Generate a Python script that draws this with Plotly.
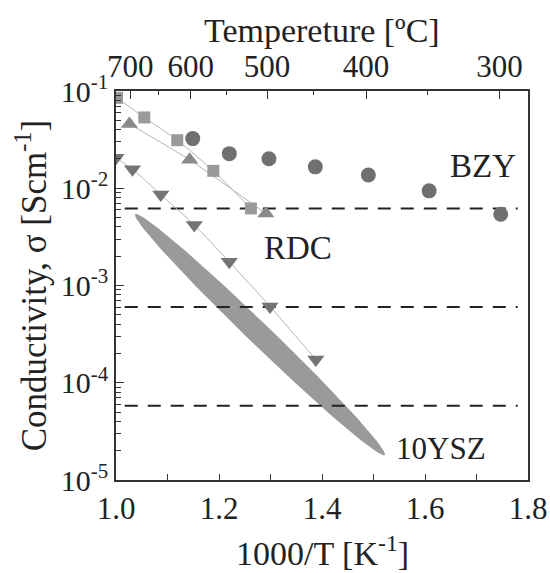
import numpy as np
import plotly.graph_objects as go

# ---- data ----
bzy_x = [1.149, 1.220, 1.297, 1.387, 1.490, 1.608, 1.747]
bzy_y = [0.0324, 0.0227, 0.0201, 0.0166, 0.0137, 0.0094, 0.0054]

sq_x = [1.002, 1.055, 1.119, 1.189, 1.262]
sq_y = [0.085, 0.0535, 0.0312, 0.0151, 0.0062]

tu_x = [1.026, 1.143, 1.291]
tu_y = [0.0459, 0.0196, 0.0055]

td_x = [1.000, 1.032, 1.087, 1.152, 1.220, 1.299, 1.388]
td_y = [0.0206, 0.0157, 0.0086, 0.0042, 0.00175, 0.00061, 0.000173]

ref_levels = [6.2e-3, 6.0e-4, 5.8e-5]
ref_x = [1.017, 1.780]

# 10YSZ band: ends of the long axis (x, log10 sigma) and half-width offset
ysz_end_a = (1.037, -2.265)
ysz_end_b = (1.522, -4.744)
ysz_half_minor = (0.0149, 0.081)

temp_major = [700, 600, 500, 400, 300]
temp_minor = [650, 550, 450, 350]

x_ticks = [1.0, 1.2, 1.4, 1.6, 1.8]
x_ticktext = ["1.0", "1.2", "1.4", "1.6", "1.8"]
y_decades = [-1, -2, -3, -4, -5]
y_ticks = [10.0 ** d for d in y_decades]
y_ticktext = ["10<sup>%d</sup>" % d for d in y_decades]
y_minor = [k * 10.0 ** d for d in [-5, -4, -3, -2] for k in range(2, 10)]

FONT = "Liberation Serif"
INK = "#222222"
AX = "#333333"

fig = go.Figure()

# 10YSZ ellipse band
cx = (ysz_end_a[0] + ysz_end_b[0]) / 2
cl = (ysz_end_a[1] + ysz_end_b[1]) / 2
ax_ = (ysz_end_a[0] - ysz_end_b[0]) / 2
al_ = (ysz_end_a[1] - ysz_end_b[1]) / 2
t = np.linspace(0, 2 * np.pi, 200)
ex = cx + np.cos(t) * ax_ + np.sin(t) * ysz_half_minor[0]
el = cl + np.cos(t) * al_ + np.sin(t) * ysz_half_minor[1]
fig.add_trace(go.Scatter(x=ex, y=10 ** el, mode="lines", fill="toself",
                         fillcolor="#9a9a9a", line=dict(width=0, color="#9a9a9a"),
                         hoverinfo="skip", showlegend=False))

# dashed reference levels
for lv in ref_levels:
    fig.add_trace(go.Scatter(x=ref_x, y=[lv, lv], mode="lines",
                             line=dict(color=INK, width=2, dash="13px,10px"),
                             showlegend=False, hoverinfo="skip"))

# thin connecting lines
for xs, ys in [(sq_x, sq_y), (tu_x, tu_y), (td_x, td_y)]:
    fig.add_trace(go.Scatter(x=xs, y=ys, mode="lines",
                             line=dict(color="#b5b5b5", width=1, shape="spline", smoothing=0.5),
                             showlegend=False, hoverinfo="skip"))

# markers
fig.add_trace(go.Scatter(x=bzy_x, y=bzy_y, mode="markers", name="BZY",
                         marker=dict(symbol="circle", size=15, color="#707070"),
                         showlegend=False))
fig.add_trace(go.Scatter(x=sq_x, y=sq_y, mode="markers", name="sq",
                         marker=dict(symbol="square", size=12, color="#9a9a9a"),
                         showlegend=False))
fig.add_trace(go.Scatter(x=tu_x, y=tu_y, mode="markers", name="tu",
                         marker=dict(symbol="triangle-up", size=15, color="#8a8a8a"),
                         showlegend=False))
fig.add_trace(go.Scatter(x=td_x, y=td_y, mode="markers", name="td",
                         marker=dict(symbol="triangle-down", size=15, color="#747474"),
                         showlegend=False))

# invisible trace to carry the top axis
fig.add_trace(go.Scatter(x=[1.0, 1.8], y=[1e-3, 1e-3], xaxis="x2", mode="markers",
                         marker=dict(opacity=0), showlegend=False, hoverinfo="skip"))

annos = [("BZY", 1.713, -1.769, 33), ("RDC", 1.353, -2.610, 33), ("10YSZ", 1.631, -4.672, 31)]
for txt, x, y, s in annos:
    fig.add_annotation(x=x, y=y, text=txt, showarrow=False,
                       font=dict(family=FONT, size=s, color=INK))

# axis titles for top and bottom axes
fig.add_annotation(x=0.5, y=1, xref="paper", yref="paper", text="Tempereture [ºC]",
                   showarrow=False, yanchor="middle", yshift=61,
                   font=dict(family=FONT, size=34, color=INK))
fig.add_annotation(x=0.5, y=0, xref="paper", yref="paper", text="1000/T [K<sup>-1</sup>]",
                   showarrow=False, yanchor="middle", yshift=-71,
                   font=dict(family=FONT, size=34, color=INK))

fig.update_layout(
    width=550, height=573,
    margin=dict(l=116, r=22, t=91, b=93),
    paper_bgcolor="white", plot_bgcolor="white",
    font=dict(family=FONT, color=INK),
    xaxis=dict(range=[1.0, 1.8], tickvals=x_ticks, ticktext=x_ticktext, automargin=False,
               ticks="inside", ticklen=6, tickwidth=1, tickcolor=AX,
               minor=dict(dtick=0.1, ticks="inside", ticklen=6, tickcolor=AX),
               showline=True, linecolor=AX, linewidth=1.5, mirror=True,
               showgrid=False, zeroline=False,
               tickfont=dict(family=FONT, size=31, color=INK)),
    xaxis2=dict(range=[1.0, 1.8], overlaying="x", side="top", automargin=False,
                tickvals=[1000 / (T + 273.15) for T in temp_major],
                ticktext=[str(T) for T in temp_major],
                ticks="inside", ticklen=8, tickcolor=AX,
                minor=dict(tickvals=[1000 / (T + 273.15) for T in temp_minor],
                           ticks="inside", ticklen=4, tickcolor=AX),
                showline=True, linecolor=AX, linewidth=1.5,
                showgrid=False, zeroline=False,
                tickfont=dict(family=FONT, size=31, color=INK)),
    yaxis=dict(type="log", range=[-5, -1], tickvals=y_ticks, ticktext=y_ticktext, automargin=False,
               ticks="inside", ticklen=8, tickcolor=AX,
               minor=dict(tickvals=y_minor, ticks="inside", ticklen=5, tickcolor=AX),
               showline=True, linecolor=AX, linewidth=1.5, mirror=True,
               showgrid=False, zeroline=False,
               tickfont=dict(family=FONT, size=30, color=INK),
               title=dict(text="Conductivity, σ [Scm<sup>-1</sup>]",
                          font=dict(family=FONT, size=35, color=INK), standoff=4)),
)

fig.write_html(
    "out.html",
    config={"displayModeBar": False},
    post_script=("document.body.style.margin='0';"
                 "document.body.style.overflow='hidden';"
                 "document.documentElement.style.overflow='hidden';"),
)
